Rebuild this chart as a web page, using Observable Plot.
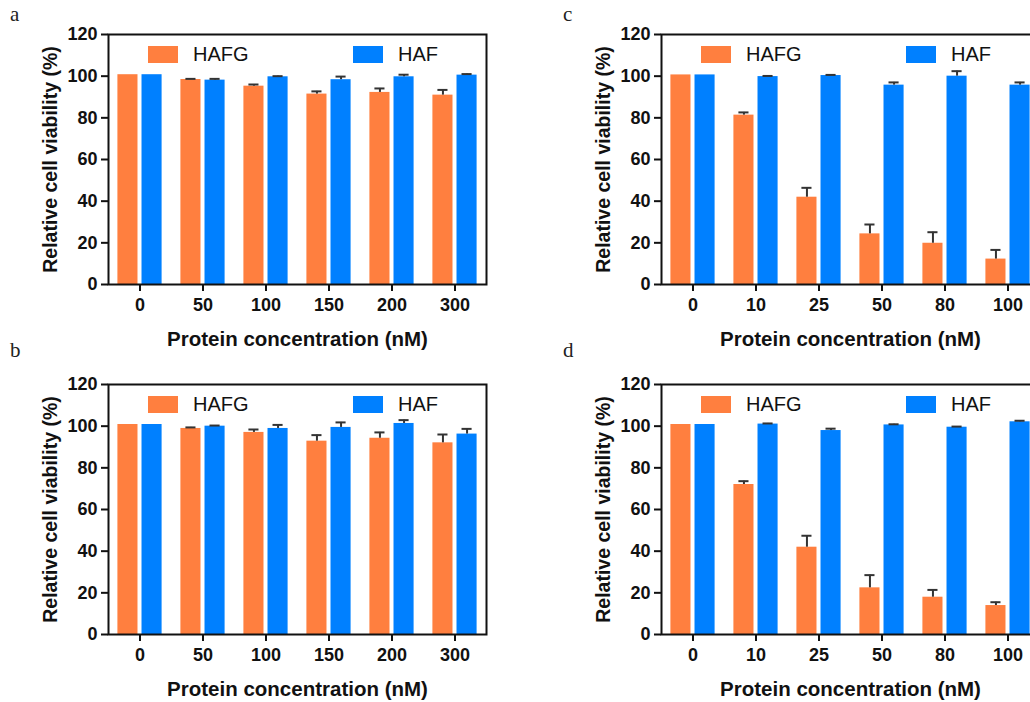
<!DOCTYPE html>
<html>
<head>
<meta charset="utf-8">
<script src="https://cdn.jsdelivr.net/npm/d3@7"></script>
<script src="https://cdn.jsdelivr.net/npm/@observablehq/plot@0.6"></script>
<style>
  html, body { margin: 0; padding: 0; background: #fff; overflow: hidden; }
  #page { position: relative; width: 1030px; height: 702px; overflow: hidden; background: #fff; }
  .panel { position: absolute; width: 520px; height: 352px; }
  .panel svg { position: absolute; left: 0; top: 0; overflow: visible; }
  .letter { position: absolute; font-family: "Liberation Serif", "DejaVu Serif", serif; font-size: 21px; color: #222; }
  .legend { position: absolute; top: 43px; left: 148px; display: flex; font-family: "Liberation Sans", Arial, sans-serif; font-size: 20px; color: #111; }
  .legend .item { display: flex; align-items: center; width: 205px; }
  .legend .sw { width: 30px; height: 17px; margin-right: 15px; }
</style>
</head>
<body>
<div id="page"></div>
<script>
// ---- data ----
const seriesNames = ["HAFG", "HAF"];
const seriesColors = ["#FF7F3F", "#0080FF"];
const yTicks = [0, 20, 40, 60, 80, 100, 120];

const concA = ["0", "50", "100", "150", "200", "300"];
const hafgA = [100.7, 98.4, 95.2, 91.4, 92.2, 90.9];
const hafgErrA = [0, 0.3, 0.8, 1.3, 1.9, 2.5];
const hafA = [100.7, 98.1, 99.7, 98.3, 99.7, 100.5];
const hafErrA = [0, 0.6, 0.3, 1.5, 1.0, 0.5];

const concB = ["0", "50", "100", "150", "200", "300"];
const hafgB = [100.8, 98.9, 97.0, 92.8, 94.2, 92.0];
const hafgErrB = [0, 0.5, 1.4, 2.9, 2.8, 4.0];
const hafB = [100.8, 100.0, 98.9, 99.4, 101.3, 96.2];
const hafErrB = [0, 0.3, 1.7, 2.4, 1.6, 2.5];

const concC = ["0", "10", "25", "50", "80", "100"];
const hafgC = [100.6, 81.3, 41.9, 24.3, 19.8, 12.2];
const hafgErrC = [0, 1.3, 4.5, 4.5, 5.3, 4.4];
const hafC = [100.6, 99.8, 100.3, 95.7, 100.0, 95.7];
const hafErrC = [0, 0.3, 0.3, 1.3, 2.4, 1.3];

const concD = ["0", "10", "25", "50", "80", "100"];
const hafgD = [100.8, 72.0, 41.9, 22.4, 17.9, 13.9];
const hafgErrD = [0, 1.6, 5.5, 6.1, 3.5, 1.6];
const hafD = [100.8, 101.0, 97.9, 100.6, 99.5, 102.1];
const hafErrD = [0, 0.3, 0.9, 0.3, 0.3, 0.5];

const xTitle = "Protein concentration (nM)";
const yTitle = "Relative cell viability (%)";

function rows(conc, g, ge, h, he) {
  const out = [];
  conc.forEach((c, i) => {
    out.push({conc: c, series: seriesNames[0], value: g[i], err: ge[i]});
    out.push({conc: c, series: seriesNames[1], value: h[i], err: he[i]});
  });
  return out;
}

function chart(conc, data) {
  const errData = data.filter(d => d.err > 0);
  return Plot.plot({
    width: 505,
    height: 350,
    marginLeft: 108,
    marginRight: 19,
    marginTop: 34,
    marginBottom: 66,
    style: {fontFamily: "'Liberation Sans', Arial, sans-serif", fontSize: "18px", fontWeight: "bold", color: "#111", background: "transparent", overflow: "visible"},
    fx: {domain: conc, padding: 0, round: false},
    x: {domain: seriesNames, paddingInner: 0.1667, paddingOuter: 0.39, round: false, axis: null},
    y: {domain: [0, 120]},
    color: {domain: seriesNames, range: seriesColors},
    marks: [
      Plot.barY(data, {fx: "conc", x: "series", y: "value", fill: "series"}),
      Plot.ruleX(errData, {fx: "conc", x: "series", y1: "value", y2: d => d.value + d.err, stroke: "#333", strokeWidth: 2}),
      Plot.tickY(errData, {fx: "conc", x: "series", y: d => d.value + d.err, stroke: "#333", strokeWidth: 2, insetLeft: 5, insetRight: 5}),
      Plot.axisY({ticks: yTicks, tickSize: 7, tickPadding: 4, strokeWidth: 2, label: null, fontSize: 18}),
      Plot.axisY({ticks: [], tickSize: 0, label: yTitle, labelAnchor: "center", labelOffset: 65, labelArrow: "none", fontSize: 19.5}),
      Plot.axisFx({anchor: "bottom", tickSize: 7, tickPadding: 7, strokeWidth: 2, label: null, fontSize: 18}),
      Plot.axisFx({anchor: "bottom", ticks: [], tickSize: 0, label: xTitle, labelAnchor: "center", labelOffset: 61, fontSize: 20.5}),
      Plot.frame({stroke: "#111", strokeWidth: 2, facet: "super"})
    ]
  });
}

const panels = [
  {letter: "a", left: 0, top: 0, conc: concA, data: rows(concA, hafgA, hafgErrA, hafA, hafErrA)},
  {letter: "c", left: 553, top: 0, conc: concC, data: rows(concC, hafgC, hafgErrC, hafC, hafErrC)},
  {letter: "b", left: 0, top: 350, conc: concB, data: rows(concB, hafgB, hafgErrB, hafB, hafErrB)},
  {letter: "d", left: 553, top: 350, conc: concD, data: rows(concD, hafgD, hafgErrD, hafD, hafErrD)}
];

const page = document.getElementById("page");
for (const p of panels) {
  const div = document.createElement("div");
  div.className = "panel";
  div.style.left = p.left + "px";
  div.style.top = p.top + "px";
  div.appendChild(chart(p.conc, p.data));
  const leg = document.createElement("div");
  leg.className = "legend";
  seriesNames.forEach((s, i) => {
    const it = document.createElement("div");
    it.className = "item";
    const sw = document.createElement("span");
    sw.className = "sw";
    sw.style.background = seriesColors[i];
    it.appendChild(sw);
    it.appendChild(document.createTextNode(s));
    leg.appendChild(it);
  });
  div.appendChild(leg);
  const l = document.createElement("div");
  l.className = "letter";
  l.textContent = p.letter;
  l.style.left = "10px";
  l.style.top = (p.top === 0 ? 2 : -12) + "px";
  div.appendChild(l);
  page.appendChild(div);
}
</script>
</body>
</html>
